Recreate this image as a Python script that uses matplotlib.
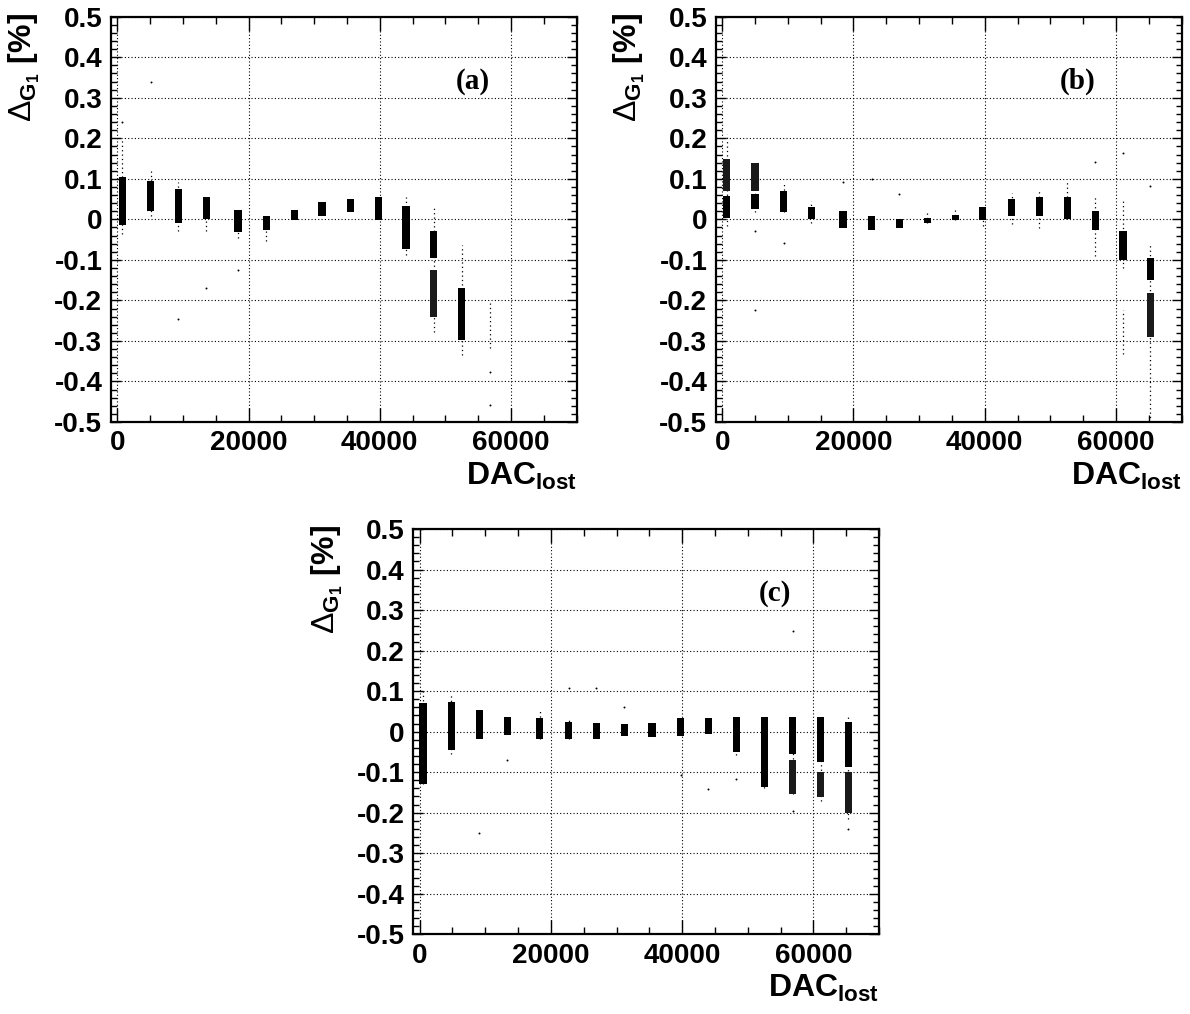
import matplotlib
matplotlib.use("Agg")
import matplotlib.pyplot as plt
from matplotlib.ticker import MultipleLocator, FixedLocator

plt.rcParams['font.family'] = ['Liberation Sans', 'DejaVu Sans']
plt.rcParams['mathtext.fontset'] = 'custom'
plt.rcParams['mathtext.rm'] = 'Liberation Sans'
plt.rcParams['mathtext.bf'] = 'Liberation Sans:bold'
plt.rcParams['mathtext.it'] = 'Liberation Sans:bold'

# ---- panel (a) ----
a_dac = [800, 5100, 9300, 13600, 18400, 22700, 27000, 31200, 35500, 39800, 44000, 48200, 52500]
a_lo = [-0.015, 0.021, -0.008, 0.000, -0.031, -0.025, -0.002, 0.008, 0.018, -0.002, -0.074, -0.095, -0.298]
a_hi = [0.105, 0.095, 0.074, 0.054, 0.023, 0.008, 0.022, 0.043, 0.051, 0.054, 0.033, -0.029, -0.169]
a_b2_dac = [48200]
a_b2_lo = [-0.240]
a_b2_hi = [-0.124]
a_tail_dac = [800, 5100, 9300, 13600, 18400, 22700, 44000, 48200, 52500, 56800]
a_tail_lo = [-0.037, 0.008, -0.029, -0.029, -0.045, -0.054, -0.087, -0.277, -0.335, -0.318]
a_tail_hi = [0.200, 0.126, 0.091, 0.054, 0.023, 0.008, 0.056, 0.029, -0.062, -0.202]
a_out_x = [800, 5100, 9300, 13600, 18400, 56800, 56800]
a_out_y = [0.240, 0.339, -0.246, -0.169, -0.126, -0.376, -0.459]

# ---- panel (b) ----
b_dac = [700, 5000, 9350, 13550, 18400, 22800, 27000, 31250, 35500, 39700, 44100, 48300, 52550, 56850, 61050, 65250]
b_lo = [0.004, 0.026, 0.018, 0.000, -0.021, -0.025, -0.021, -0.010, -0.002, -0.002, 0.008, 0.008, 0.000, -0.025, -0.099, -0.149]
b_hi = [0.058, 0.062, 0.070, 0.031, 0.021, 0.008, 0.002, 0.004, 0.012, 0.031, 0.050, 0.054, 0.054, 0.021, -0.029, -0.095]
b_b2_dac = [700, 5000, 65250]
b_b2_lo = [0.070, 0.070, -0.289]
b_b2_hi = [0.150, 0.140, -0.182]
b_tail_dac = [700, 5000, 9350, 13550, 31250, 35500, 39700, 44100, 48300, 52550, 56850, 61050, 61050, 65250]
b_tail_lo = [-0.017, 0.017, 0.018, -0.008, -0.010, -0.002, -0.017, -0.012, -0.021, 0.000, -0.091, -0.120, -0.331, -0.500]
b_tail_hi = [0.210, 0.140, 0.091, 0.045, 0.021, 0.023, 0.031, 0.066, 0.073, 0.091, 0.054, 0.050, -0.223, -0.062]
b_out_x = [5000, 5000, 9350, 18400, 22800, 27000, 56850, 61050, 65250]
b_out_y = [-0.029, -0.223, -0.058, 0.091, 0.099, 0.062, 0.142, 0.165, 0.083]

# ---- panel (c) ----
c_dac = [500, 4850, 9100, 13350, 18300, 22700, 26900, 31200, 35400, 39800, 44000, 48250, 52500, 56850, 61100, 65300]
c_lo = [-0.129, -0.046, -0.017, -0.009, -0.017, -0.019, -0.019, -0.010, -0.013, -0.010, -0.007, -0.050, -0.137, -0.054, -0.075, -0.087]
c_hi = [0.070, 0.074, 0.054, 0.037, 0.033, 0.025, 0.022, 0.018, 0.022, 0.033, 0.033, 0.037, 0.037, 0.037, 0.037, 0.025]
c_b2_dac = [56850, 61100, 65300]
c_b2_lo = [-0.154, -0.162, -0.200]
c_b2_hi = [-0.071, -0.100, -0.100]
c_tail_dac = [500, 4850, 18300, 22700, 48250, 52500, 56850, 61100, 65300]
c_tail_lo = [-0.129, -0.054, -0.017, -0.019, -0.058, -0.140, -0.154, -0.170, -0.216]
c_tail_hi = [0.107, 0.091, 0.051, 0.029, 0.037, 0.037, 0.037, 0.037, 0.041]
c_out_x = [9100, 13350, 22700, 26900, 31200, 39800, 44000, 48250, 56850, 56850, 65300]
c_out_y = [-0.249, -0.071, 0.107, 0.107, 0.062, -0.108, -0.141, -0.117, 0.249, -0.195, -0.241]

x_major = [0, 20000, 40000, 60000]
ylab = r'$\Delta_{\mathbf{G_{1}}}\ \mathbf{[\%]}$'
xlab = r'$\mathbf{DAC_{lost}}$'

fig = plt.figure(figsize=(11.9, 10.14), dpi=100)


def draw_panel(rect, dac, lo, hi, b2_dac, b2_lo, b2_hi, t_dac, t_lo, t_hi, o_x, o_y, tag):
    ax = fig.add_axes(rect)
    ax.set_xlim(-1000, 70000)
    ax.set_ylim(-0.5, 0.5)
    # sparse spread of each cluster
    ax.vlines(t_dac, t_lo, t_hi, colors='black', linewidth=0.9, linestyles=(0, (1, 2.5)), zorder=2)
    # dense part of each cluster
    ax.bar(dac, [h - l for h, l in zip(hi, lo)], bottom=lo, width=1100, color='black', zorder=3)
    ax.bar(b2_dac, [h - l for h, l in zip(b2_hi, b2_lo)], bottom=b2_lo, width=1100, color='#1a1a1a', zorder=3)
    ax.scatter(o_x, o_y, s=2, color='black', linewidths=0, zorder=3)

    ax.xaxis.set_major_locator(FixedLocator(x_major))
    ax.xaxis.set_minor_locator(MultipleLocator(5000))
    ax.yaxis.set_major_locator(MultipleLocator(0.1))
    ax.yaxis.set_minor_locator(MultipleLocator(0.02))
    ax.set_yticklabels(['0' if abs(v) < 1e-9 else f'{v:.1f}' for v in ax.get_yticks()])
    ax.grid(True, which='major', color='black', linestyle=(0, (1, 2)), linewidth=0.8)
    ax.set_axisbelow(True)
    ax.tick_params(which='both', direction='in', top=True, right=True, width=1.0,
                   labelsize=20, pad=6)
    ax.tick_params(axis='x', which='major', length=10)
    ax.tick_params(axis='x', which='minor', length=5)
    ax.tick_params(axis='y', which='major', length=7.5)
    ax.tick_params(axis='y', which='minor', length=4.5)
    for lab in ax.get_xticklabels() + ax.get_yticklabels():
        lab.set_fontweight('bold')
    for s in ax.spines.values():
        s.set_linewidth(1.6)

    ax.text(-0.185, 1.01, ylab, rotation=90, ha='center', va='top',
            fontsize=23, transform=ax.transAxes)
    ax.text(1.0, -0.155, xlab, ha='right', va='baseline', fontsize=23, transform=ax.transAxes)
    ax.text(54200, 0.34, tag, ha='center', va='center', fontsize=21,
            family='Liberation Serif', fontweight='bold')
    return ax


draw_panel([0.0930, 0.5838, 0.3916, 0.3997], a_dac, a_lo, a_hi, a_b2_dac, a_b2_lo, a_b2_hi,
           a_tail_dac, a_tail_lo, a_tail_hi, a_out_x, a_out_y, '(a)')
draw_panel([0.6014, 0.5838, 0.3916, 0.3997], b_dac, b_lo, b_hi, b_b2_dac, b_b2_lo, b_b2_hi,
           b_tail_dac, b_tail_lo, b_tail_hi, b_out_x, b_out_y, '(b)')
draw_panel([0.3471, 0.0786, 0.3916, 0.3997], c_dac, c_lo, c_hi, c_b2_dac, c_b2_lo, c_b2_hi,
           c_tail_dac, c_tail_lo, c_tail_hi, c_out_x, c_out_y, '(c)')

fig.savefig('out.png', dpi=100)
